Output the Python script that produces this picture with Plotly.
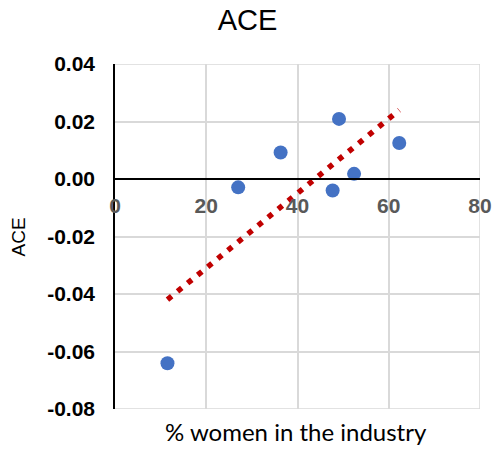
import numpy as np
import plotly.graph_objects as go

# Data
pct_women = [11.5, 27.0, 36.3, 47.7, 49.1, 52.4, 62.3]
ace = [-0.0641, -0.0029, 0.0092, -0.0040, 0.0209, 0.0018, 0.0125]

x_ticks = [0, 20, 40, 60, 80]
x_ticktext = ["0", "20", "40", "60", "80"]
y_ticks = [-0.08, -0.06, -0.04, -0.02, 0.0, 0.02, 0.04]
y_ticktext = ["-0.08", "-0.06", "-0.04", "-0.02", "0.00", "0.02", "0.04"]

# Linear trendline (least squares) over the data range
slope, intercept = np.polyfit(pct_women, ace, 1)
tx = [min(pct_women), max(pct_women)]
ty = [slope * v + intercept for v in tx]

xmin, xmax = x_ticks[0], x_ticks[-1]
ymin, ymax = y_ticks[0], y_ticks[-1]
zero_pos = (0 - ymin) / (ymax - ymin)

fig = go.Figure()
fig.add_trace(go.Scatter(
    x=pct_women, y=ace, mode="markers",
    marker=dict(size=14, color="#4472C4", line=dict(width=0)),
    hoverinfo="x+y", showlegend=False,
))
fig.add_trace(go.Scatter(
    x=tx, y=ty, mode="lines",
    line=dict(color="#C00000", width=5.5, dash="5.5px,7.5px"),
    hoverinfo="skip", showlegend=False,
))

grid = dict(color="#D9D9D9", width=1.5)
shapes = [
    dict(type="line", xref="x", yref="y", x0=xmin, x1=xmax, y0=ymax, y1=ymax,
         line=grid, layer="below"),
    dict(type="line", xref="x", yref="y", x0=xmin, x1=xmax, y0=ymin, y1=ymin,
         line=grid, layer="below"),
    dict(type="line", xref="x", yref="y", x0=xmax, x1=xmax, y0=ymin, y1=ymax,
         line=grid, layer="below"),
]

fig.update_layout(
    width=495, height=450,
    margin=dict(l=115, r=15, t=64, b=41, autoexpand=False),
    paper_bgcolor="white", plot_bgcolor="white",
    shapes=shapes,
    title=dict(text="ACE", x=0.5, xref="container", xanchor="center",
               y=0.955, yref="container", yanchor="middle",
               font=dict(family="Liberation Sans, Arial", size=29, color="black")),
    xaxis=dict(
        range=[xmin, xmax], tickvals=x_ticks, ticktext=x_ticktext,
        showgrid=True, gridcolor="#D9D9D9", gridwidth=1.5,
        zeroline=False, showline=True, linecolor="black", linewidth=1.5,
        anchor="free", position=zero_pos, ticks="", ticklabelstandoff=8,
        automargin=False,
        tickfont=dict(family="Liberation Sans, Arial", size=21, color="#595959",
                      weight="bold"),
    ),
    yaxis=dict(
        range=[ymin, ymax], tickvals=y_ticks, ticktext=y_ticktext,
        showgrid=True, gridcolor="#D9D9D9", gridwidth=1.5,
        zeroline=False, showline=True, linecolor="black", linewidth=1.5,
        ticks="", ticklabelstandoff=14, automargin=False,
        tickfont=dict(family="Liberation Sans, Arial", size=21, color="black",
                      weight="bold"),
    ),
    annotations=[
        dict(text="% women in the industry", xref="paper", yref="paper",
             x=(295.5 - 115) / 365, y=-(431 - 409) / 345, xanchor="center",
             yanchor="middle", showarrow=False,
             font=dict(family="Lato, Noto Sans", size=24, color="black")),
        dict(text="ACE", xref="paper", yref="paper",
             x=-(115 - 18.5) / 365, y=(409 - 237) / 345, xanchor="center",
             yanchor="middle", textangle=-90, showarrow=False,
             font=dict(family="Liberation Sans, Arial", size=19, color="black")),
    ],
)

fig.write_html("out.html")
